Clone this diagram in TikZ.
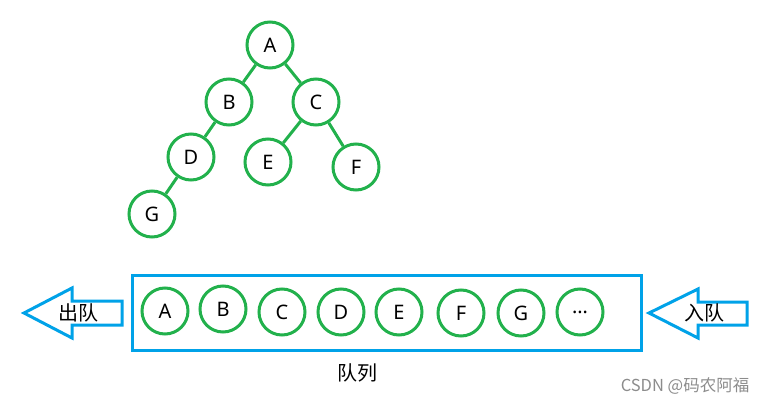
\documentclass[tikz,border=0pt]{standalone}
\usepackage{fontspec}
\setmainfont{Noto Sans}
\newfontfamily\cjk{Noto Sans CJK SC}
\usetikzlibrary{positioning}

\definecolor{treegreen}{RGB}{34,177,76}
\definecolor{queueblue}{RGB}{0,162,232}

\begin{document}
\begin{tikzpicture}[x=1pt,y=-1pt]
    \tikzset{vertex/.style = {shape=circle,draw=treegreen,line width=3pt,minimum size=46pt, inner sep = 0pt, font=\fontsize{20}{22}\selectfont}}
    \tikzset{edge/.style = {draw=treegreen, line width=3pt}}
    \tikzset{queuebox/.style = {shape=rectangle,draw=queueblue,line width=3pt, inner sep = 0pt}}
    \tikzset{blockarrow/.style = {draw=queueblue, line width=3pt, line join=miter}}
    \tikzset{cjklabel/.style = {font=\cjk\fontsize{20}{22}\selectfont}}

    \useasboundingbox (0,0) rectangle (769,404);

    % tree
    \node[vertex] (A) at (270, 45) {A};
    \node[vertex] (B) at (229, 102) {B};
    \node[vertex] (C) at (316, 102) {C};
    \node[vertex] (D) at (191, 157) {D};
    \node[vertex] (E) at (268, 162) {E};
    \node[vertex] (F) at (356, 167) {F};
    \node[vertex] (G) at (152, 214) {G};

    \draw[edge] (A) -- (B);
    \draw[edge] (A) -- (C);
    \draw[edge] (B) -- (D);
    \draw[edge] (C) -- (E);
    \draw[edge] (C) -- (F);
    \draw[edge] (D) -- (G);

    % queue
    \node[queuebox, minimum width=509pt, minimum height=75pt] (Q) at (386.5, 312.5) {};
    \node[vertex] (qA) at (165, 311) {A};
    \node[vertex] (qB) at (223, 309) {B};
    \node[vertex] (qC) at (282, 312) {C};
    \node[vertex] (qD) at (341, 312) {D};
    \node[vertex] (qE) at (399, 312) {E};
    \node[vertex] (qF) at (461, 313) {F};
    \node[vertex] (qG) at (521, 313) {G};
    \node[vertex] (qDots) at (580, 312) {…};
    \node[cjklabel] (qName) at (357, 373) {队列};

    % out / in arrows
    \draw[blockarrow] (24,313) -- (72,288) -- (72,301) -- (122,301) -- (122,325) -- (72,325) -- (72,338) -- cycle;
    \node[cjklabel] (out) at (78, 313) {出队};
    \draw[blockarrow] (649,313) -- (698,289) -- (698,302) -- (747,302) -- (747,325) -- (698,325) -- (698,338) -- cycle;
    \node[cjklabel] (in) at (704, 313) {入队};

    \node[font=\cjk\fontsize{16.5}{18}\selectfont, text=black!45] (mark) at (685, 386) {CSDN @码农阿福};
\end{tikzpicture}
\end{document}
